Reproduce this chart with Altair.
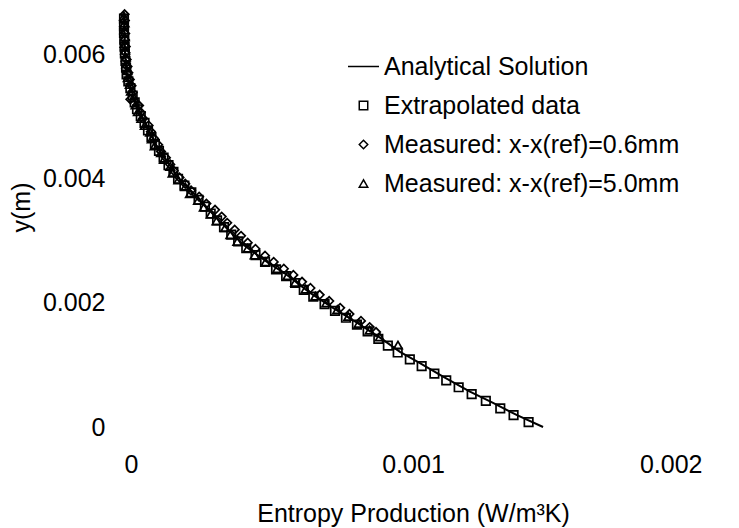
import altair as alt
import pandas as pd

FONT = "Liberation Sans"

# Analytical solution (x = entropy production, y = height)
ana_x = [0.0, 0.000001, 0.000004, 0.00001, 0.000028, 0.000048, 0.00008, 0.000114,
         0.000152, 0.000194, 0.000253, 0.000332, 0.000412, 0.000495, 0.000564,
         0.000644, 0.000723, 0.000806, 0.000886, 0.000955, 0.001024, 0.001104,
         0.001197, 0.001277, 0.00136, 0.00145]
ana_y = [0.00668, 0.00636, 0.00597, 0.00565, 0.00539, 0.00511, 0.00484, 0.00452,
         0.00426, 0.00398, 0.00371, 0.00331, 0.00294, 0.00266, 0.00245,
         0.00216, 0.00192, 0.00168, 0.00144, 0.00121, 0.00103, 0.00081,
         0.00057, 0.00039, 0.00019, 0.0]

# Extrapolated data (squares)
ext_y = [0.00008, 0.00019, 0.00030, 0.00042, 0.00053, 0.00064, 0.00075, 0.00086,
         0.00098, 0.00109, 0.00120, 0.00131, 0.00142, 0.00154, 0.00165, 0.00176,
         0.00187, 0.00198, 0.00210, 0.00221, 0.00232, 0.00243, 0.00254, 0.00266,
         0.00277, 0.00288, 0.00299, 0.00310, 0.00322, 0.00333, 0.00344, 0.00355,
         0.00366, 0.00378, 0.00389, 0.00400, 0.00411, 0.00422, 0.00434, 0.00445,
         0.00456, 0.00467, 0.00478, 0.00490, 0.00501, 0.00512, 0.00523, 0.00534,
         0.00546, 0.00557, 0.00568, 0.00579, 0.00590, 0.00602, 0.00613, 0.00624,
         0.00635, 0.00646, 0.00658]
ext_x = [0.00140, 0.001348, 0.001302, 0.001252, 0.001203, 0.001158, 0.001115, 0.001074,
         0.00103, 0.000989, 0.000947, 0.000913, 0.00088, 0.000843, 0.000806, 0.000768,
         0.00073, 0.000694, 0.000655, 0.000622, 0.000592, 0.000561, 0.000526, 0.000488,
         0.000455, 0.000423, 0.000395, 0.000371, 0.000346, 0.000322, 0.0003, 0.00028,
         0.000258, 0.000233, 0.000209, 0.000187, 0.000171, 0.000154, 0.000137, 0.000121,
         0.000107, 0.000095, 0.000083, 0.000071, 0.000058, 0.000045, 0.000037, 0.00003,
         0.000022, 0.000015, 0.000009, 0.000007, 0.000005, 0.000003, 0.000002, 0.000001,
         0.0, 0.0, 0.0]

# Measured x-x(ref)=0.6mm (diamonds)
m06_y = [0.00665, 0.00655, 0.00645, 0.00634, 0.00624, 0.00613, 0.00603, 0.00592,
         0.00581, 0.00571, 0.00560, 0.00550, 0.00539, 0.00528, 0.00518, 0.00507,
         0.00497, 0.00486, 0.00476, 0.00465, 0.00455, 0.00444, 0.00434, 0.00423,
         0.00413, 0.00402, 0.00392, 0.00381, 0.00371, 0.00360, 0.00350, 0.00339,
         0.00329, 0.00318, 0.00308, 0.00297, 0.00287, 0.00276, 0.00266, 0.00255,
         0.00245, 0.00234, 0.00224, 0.00213, 0.00203, 0.00192, 0.00182, 0.00171,
         0.00161, 0.00153]
m06_x = [0.000002, 0.000003, 0.0, 0.000004, 0.000003, 0.000006, 0.000005, 0.000009,
         0.000012, 0.000015, 0.00002, 0.000026, 0.00003, 0.000022, 0.000052, 0.000058,
         0.000066, 0.000085, 0.000093, 0.000104, 0.000118, 0.000128, 0.000145, 0.00016,
         0.000172, 0.000192, 0.000212, 0.000232, 0.00026, 0.000285, 0.000315, 0.000338,
         0.000357, 0.000383, 0.000405, 0.000428, 0.000455, 0.000488, 0.000518, 0.000553,
         0.000586, 0.000616, 0.000645, 0.000677, 0.00071, 0.000748, 0.00078, 0.00082,
         0.00085, 0.000872]

# Measured x-x(ref)=5.0mm (triangles)
m50_y = [0.00662, 0.00651, 0.00640, 0.00629, 0.00618, 0.00607, 0.00596, 0.00585,
         0.00574, 0.00563, 0.00552, 0.00541, 0.00530, 0.00519, 0.00508, 0.00497,
         0.00486, 0.00475, 0.00464, 0.00453, 0.00442, 0.00431, 0.00420, 0.00409,
         0.00398, 0.00387, 0.00376, 0.00365, 0.00354, 0.00343, 0.00332, 0.00321,
         0.00310, 0.00299, 0.00288, 0.00277, 0.00266, 0.00255, 0.00244, 0.00233,
         0.00222, 0.00211, 0.00200, 0.00189, 0.00178, 0.00167, 0.00156, 0.00145,
         0.00132]
m50_x = [0.0, 0.000002, 0.000001, 0.000003, 0.000002, 0.000004, 0.000006, 0.000008,
         0.000012, 0.000013, 0.00002, 0.000024, 0.000035, 0.00004, 0.000048, 0.00006,
         0.000072, 0.00009, 0.000096, 0.000106, 0.000128, 0.000138, 0.00016, 0.000168,
         0.000188, 0.000212, 0.000228, 0.000256, 0.000276, 0.0003, 0.00032, 0.00035,
         0.000368, 0.000392, 0.000428, 0.000452, 0.00049, 0.00053, 0.000566, 0.000592,
         0.000628, 0.000662, 0.0007, 0.000738, 0.000776, 0.000812, 0.00085, 0.000885,
         0.000948]

series_names = ["Analytical Solution", "Extrapolated data",
                "Measured: x-x(ref)=0.6mm", "Measured: x-x(ref)=5.0mm"]
x_ticks = [0, 0.001, 0.002]
y_ticks = [0, 0.002, 0.004, 0.006]

ana_df = pd.DataFrame({"x": ana_x, "y": ana_y, "order": list(range(len(ana_x)))})
pts_df = pd.concat([
    pd.DataFrame({"x": ext_x, "y": ext_y, "series": series_names[1]}),
    pd.DataFrame({"x": m06_x, "y": m06_y, "series": series_names[2]}),
    pd.DataFrame({"x": m50_x, "y": m50_y, "series": series_names[3]}),
], ignore_index=True)

x_enc = alt.X("x:Q", scale=alt.Scale(domain=[0, 0.002], nice=False, zero=False),
              axis=alt.Axis(values=x_ticks, format=".3~f", title="Entropy Production (W/m³K)",
                            labelPadding=25, titlePadding=24))
y_enc = alt.Y("y:Q", scale=alt.Scale(domain=[0, 0.0068], nice=False, zero=False),
              axis=alt.Axis(values=y_ticks, format=".3~f", title="y(m)",
                            labelPadding=19, titlePadding=8, titleY=202))

legend_kw = dict(title=None, orient="none", legendX=223, legendY=45)

line = alt.Chart(ana_df).mark_line(color="black", strokeWidth=2).encode(
    x=x_enc, y=y_enc, order="order:Q")

points = alt.Chart(pts_df).mark_point(filled=False, color="black", strokeWidth=1.7,
                                      opacity=1).encode(
    x="x:Q", y="y:Q",
    shape=alt.Shape("series:N",
                    scale=alt.Scale(domain=series_names,
                                    range=["stroke", "square", "diamond", "triangle-up"]),
                    legend=alt.Legend(**legend_kw)),
    size=alt.Size("series:N",
                  scale=alt.Scale(type="ordinal", domain=series_names,
                                  range=[961, 72, 72, 72]),
                  legend=alt.Legend(**legend_kw)),
)

chart = alt.layer(line, points).properties(
    width=578, height=422,
    autosize=alt.AutoSizeParams(type="none"),
    padding={"left": 124, "top": 5, "right": 37, "bottom": 101},
    background="white",
).configure_view(stroke=None).configure_axis(
    domain=False, ticks=False, grid=False,
    labelFont=FONT, titleFont=FONT, labelFontSize=25, titleFontSize=25,
    labelColor="black", titleColor="black", titleFontWeight="normal",
).configure_legend(
    labelFont=FONT, labelFontSize=25, labelColor="black", labelLimit=500,
    symbolStrokeColor="black", symbolStrokeWidth=1.5, rowPadding=13, padding=0,
    labelOffset=4,
)

chart.save("out.html", embed_options={"renderer": "svg", "actions": False})
